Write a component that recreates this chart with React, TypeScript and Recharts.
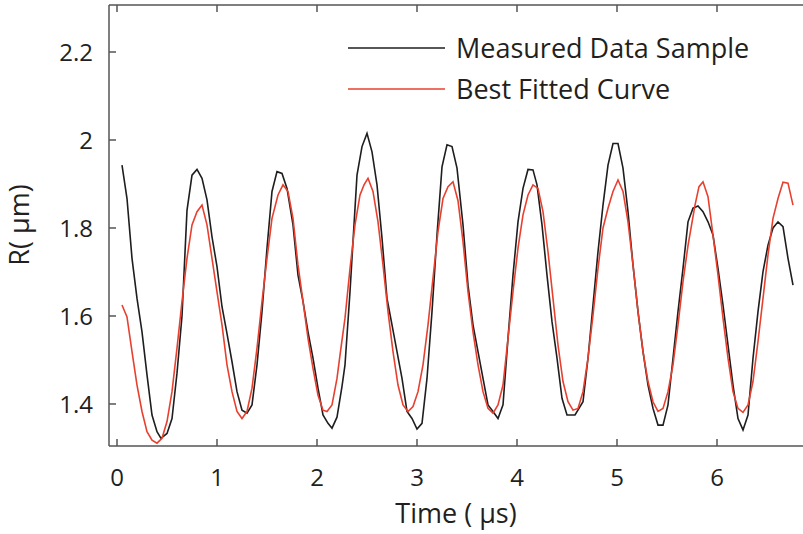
import { LineChart, Line, XAxis, YAxis, Label } from 'recharts';

// Measured data sample (time in µs, radius in µm)
const measuredT = [
  0.05, 0.1, 0.15, 0.2, 0.25, 0.3, 0.35, 0.4, 0.44, 0.5, 0.55, 0.6, 0.65, 0.7, 0.75, 0.8, 0.85,
  0.9, 0.95, 1.0, 1.05, 1.1, 1.15, 1.2, 1.25, 1.3, 1.35, 1.4, 1.45, 1.5, 1.55, 1.6, 1.65, 1.7,
  1.76, 1.81, 1.86, 1.91, 1.96, 2.01, 2.06, 2.11, 2.15, 2.2, 2.25, 2.28, 2.33, 2.36, 2.4, 2.45,
  2.5, 2.55, 2.6, 2.65, 2.7, 2.75, 2.8, 2.85, 2.9, 2.95, 3.0, 3.05, 3.1, 3.15, 3.2, 3.25, 3.3,
  3.35, 3.4, 3.46, 3.51, 3.56, 3.61, 3.66, 3.71, 3.76, 3.81, 3.86, 3.91, 3.96, 4.01, 4.06, 4.11,
  4.16, 4.2, 4.25, 4.3, 4.35, 4.4, 4.45, 4.5, 4.58, 4.66, 4.71, 4.76, 4.81, 4.86, 4.91, 4.96,
  5.01, 5.06, 5.11, 5.16, 5.21, 5.26, 5.31, 5.36, 5.41, 5.46, 5.51, 5.56, 5.61, 5.66, 5.71, 5.76,
  5.81, 5.86, 5.91, 5.96, 6.01, 6.06, 6.11, 6.16, 6.21, 6.26, 6.31, 6.36, 6.41, 6.46, 6.51, 6.56,
  6.61, 6.66, 6.71, 6.76,
];
const measuredR = [
  1.943, 1.867, 1.731, 1.64, 1.564, 1.466, 1.375, 1.337, 1.322, 1.333, 1.367, 1.47, 1.6, 1.84,
  1.92, 1.933, 1.913, 1.864, 1.78, 1.712, 1.621, 1.56, 1.496, 1.428, 1.386, 1.379, 1.398, 1.489,
  1.61, 1.754, 1.883, 1.928, 1.924, 1.89, 1.807, 1.693, 1.633, 1.564, 1.504, 1.436, 1.375, 1.356,
  1.345, 1.37, 1.44, 1.489, 1.655, 1.769, 1.92, 1.985, 2.015, 1.973, 1.898, 1.777, 1.64, 1.58,
  1.519, 1.458, 1.383, 1.367, 1.343, 1.356, 1.458, 1.61, 1.784, 1.939, 1.989, 1.985, 1.936,
  1.807, 1.67, 1.58, 1.519, 1.458, 1.398, 1.383, 1.367, 1.398, 1.549, 1.693, 1.814, 1.89, 1.933,
  1.932, 1.898, 1.807, 1.693, 1.587, 1.504, 1.413, 1.375, 1.375, 1.405, 1.504, 1.625, 1.746,
  1.852, 1.943, 1.992, 1.992, 1.936, 1.837, 1.716, 1.61, 1.519, 1.443, 1.39, 1.352, 1.352, 1.398,
  1.504, 1.61, 1.708, 1.814, 1.845, 1.85, 1.837, 1.814, 1.784, 1.708, 1.625, 1.534, 1.443, 1.367,
  1.341, 1.375, 1.504, 1.61, 1.701, 1.761, 1.8, 1.814, 1.803, 1.731, 1.67,
];

// Best fitted curve
const fittedT = [
  0.05, 0.1, 0.15, 0.2, 0.25, 0.3, 0.35, 0.4, 0.45, 0.5, 0.55, 0.6, 0.65, 0.7, 0.75, 0.8, 0.85,
  0.9, 0.95, 1.0, 1.05, 1.1, 1.15, 1.2, 1.25, 1.3, 1.35, 1.4, 1.45, 1.5, 1.55, 1.61, 1.66, 1.71,
  1.76, 1.81, 1.86, 1.91, 1.96, 2.01, 2.06, 2.1, 2.15, 2.2, 2.23, 2.28, 2.33, 2.38, 2.43, 2.47,
  2.51, 2.56, 2.61, 2.66, 2.71, 2.76, 2.81, 2.86, 2.91, 2.96, 3.01, 3.06, 3.11, 3.16, 3.21, 3.26,
  3.31, 3.36, 3.41, 3.46, 3.51, 3.56, 3.61, 3.66, 3.71, 3.76, 3.81, 3.86, 3.91, 3.96, 4.01, 4.06,
  4.11, 4.16, 4.21, 4.26, 4.31, 4.36, 4.41, 4.46, 4.51, 4.56, 4.61, 4.66, 4.71, 4.76, 4.81, 4.86,
  4.91, 4.96, 5.01, 5.06, 5.11, 5.16, 5.21, 5.26, 5.31, 5.36, 5.41, 5.46, 5.51, 5.56, 5.61, 5.66,
  5.71, 5.78, 5.82, 5.86, 5.91, 5.96, 6.01, 6.06, 6.11, 6.16, 6.21, 6.26, 6.31, 6.36, 6.41, 6.46,
  6.51, 6.56, 6.61, 6.66, 6.71, 6.76,
];
const fittedR = [
  1.625, 1.598, 1.519, 1.443, 1.383, 1.337, 1.318, 1.311, 1.322, 1.36, 1.428, 1.527, 1.633,
  1.731, 1.807, 1.837, 1.852, 1.807, 1.731, 1.655, 1.58, 1.489, 1.428, 1.383, 1.367, 1.383,
  1.436, 1.527, 1.633, 1.731, 1.822, 1.875, 1.898, 1.883, 1.822, 1.716, 1.633, 1.549, 1.481,
  1.42, 1.386, 1.383, 1.398, 1.458, 1.511, 1.595, 1.708, 1.807, 1.875, 1.898, 1.913, 1.883, 1.814,
  1.716, 1.61, 1.519, 1.443, 1.398, 1.383, 1.394, 1.428, 1.489, 1.58, 1.686, 1.792, 1.867, 1.894,
  1.905, 1.862, 1.769, 1.655, 1.564, 1.489, 1.428, 1.39, 1.379, 1.398, 1.443, 1.549, 1.655, 1.754,
  1.83, 1.875, 1.898, 1.89, 1.837, 1.746, 1.64, 1.534, 1.451, 1.405, 1.386, 1.39, 1.428, 1.504,
  1.602, 1.708, 1.8, 1.845, 1.883, 1.909, 1.883, 1.814, 1.716, 1.61, 1.519, 1.451, 1.405, 1.383,
  1.39, 1.428, 1.489, 1.58, 1.678, 1.76, 1.852, 1.894, 1.905, 1.871, 1.784, 1.693, 1.595, 1.504,
  1.428, 1.39, 1.381, 1.398, 1.451, 1.542, 1.64, 1.739, 1.822, 1.867, 1.904, 1.902, 1.852,
];

const xTicks = [0, 1, 2, 3, 4, 5, 6];
const yTicks = [1.4, 1.6, 1.8, 2, 2.2];
const xDomain = [-0.08, 6.89];
const yDomain = [1.3045, 2.3068];

const measured = measuredT.map((t, i) => ({ t, r: measuredR[i] }));
const fitted = fittedT.map((t, i) => ({ t, r: fittedR[i] }));

const FONT = '"Open Sans", sans-serif';
const AXIS = '#555';
const TEXT = '#231f20';
const BLACK = '#1e1e1e';
const RED = '#e8402f';

const CHART_W = 812;
const MARGIN = { top: 5, right: 6, bottom: 0, left: 49 };
const Y_AXIS_W = 60;
const PLOT_LEFT = MARGIN.left + Y_AXIS_W;
const PLOT_W = CHART_W - MARGIN.right - PLOT_LEFT;

function BottomTick({ x, y, payload }: any) {
  return (
    <g>
      <line x1={x} x2={x} y1={y} y2={y - 7} stroke={AXIS} strokeWidth={1.5} />
      <text x={x} y={y + 40} textAnchor="middle" fontSize={24} fill={TEXT} fontFamily={FONT}>
        {payload.value}
      </text>
    </g>
  );
}

function LeftTick({ x, y, payload }: any) {
  return (
    <g>
      <line x1={x} x2={x + 7} y1={y} y2={y} stroke={AXIS} strokeWidth={1.5} />
      <text x={x - 16} y={y} dy="0.36em" textAnchor="end" fontSize={24} fill={TEXT} fontFamily={FONT}>
        {payload.value}
      </text>
    </g>
  );
}

// top frame of the axes box, with inward ticks at the same times as the bottom axis
function TopFrame() {
  const sx = (t: number) => PLOT_LEFT + ((t - xDomain[0]) / (xDomain[1] - xDomain[0])) * PLOT_W;
  const y = MARGIN.top;
  return (
    <svg width={803} height={20} style={{ position: 'absolute', left: 0, top: 0, pointerEvents: 'none' }}>
      <line x1={PLOT_LEFT} x2={PLOT_LEFT + PLOT_W} y1={y} y2={y} stroke={AXIS} strokeWidth={1.5} />
      {xTicks.map((t) => (
        <line key={t} x1={sx(t)} x2={sx(t)} y1={y} y2={y + 7} stroke={AXIS} strokeWidth={1.5} />
      ))}
    </svg>
  );
}

function LegendBox() {
  const items = [
    { name: 'Measured Data Sample', color: BLACK },
    { name: 'Best Fitted Curve', color: RED },
  ];
  return (
    <div style={{ position: 'absolute', top: 27, left: 348, fontFamily: FONT, fontSize: 27, color: TEXT }}>
      {items.map((it) => (
        <div key={it.name} style={{ display: 'flex', alignItems: 'center', height: 41 }}>
          <svg width={97} height={4} style={{ marginRight: 11 }}>
            <line x1={0} x2={97} y1={2} y2={2} stroke={it.color} strokeWidth={1.6} />
          </svg>
          <span style={{ lineHeight: '41px', whiteSpace: 'nowrap' }}>{it.name}</span>
        </div>
      ))}
    </div>
  );
}

export default function App() {
  return (
    <div style={{ position: 'absolute', left: 0, top: 0, width: 803, height: 534, overflow: 'hidden', background: '#fff' }}>
      <LineChart width={CHART_W} height={534} margin={MARGIN}>
        <XAxis
          type="number"
          dataKey="t"
          domain={xDomain}
          ticks={xTicks}
          interval={0}
          allowDataOverflow
          height={88}
          tickSize={0}
          tickMargin={0}
          tickLine={false}
          tick={<BottomTick />}
          axisLine={{ stroke: AXIS, strokeWidth: 1.5 }}
        >
          <Label
            content={() => (
              <text x={456} y={523} textAnchor="middle" fontSize={27} fill={TEXT} fontFamily={FONT}>
                Time ( µs)
              </text>
            )}
          />
        </XAxis>
        <YAxis
          type="number"
          domain={yDomain}
          ticks={yTicks}
          interval={0}
          allowDataOverflow
          width={Y_AXIS_W}
          tickSize={0}
          tickMargin={0}
          tickLine={false}
          tick={<LeftTick />}
          axisLine={{ stroke: AXIS, strokeWidth: 1.5 }}
        >
          <Label
            content={() => (
              <text transform="translate(29,225) rotate(-90)" textAnchor="middle" fontSize={27} fill={TEXT} fontFamily={FONT}>
                R( µm)
              </text>
            )}
          />
        </YAxis>
        <Line
          data={measured}
          dataKey="r"
          name="Measured Data Sample"
          type="linear"
          stroke={BLACK}
          strokeWidth={1.6}
          dot={false}
          isAnimationActive={false}
        />
        <Line
          data={fitted}
          dataKey="r"
          name="Best Fitted Curve"
          type="linear"
          stroke={RED}
          strokeWidth={1.6}
          dot={false}
          isAnimationActive={false}
        />
      </LineChart>
      <TopFrame />
      <LegendBox />
    </div>
  );
}
